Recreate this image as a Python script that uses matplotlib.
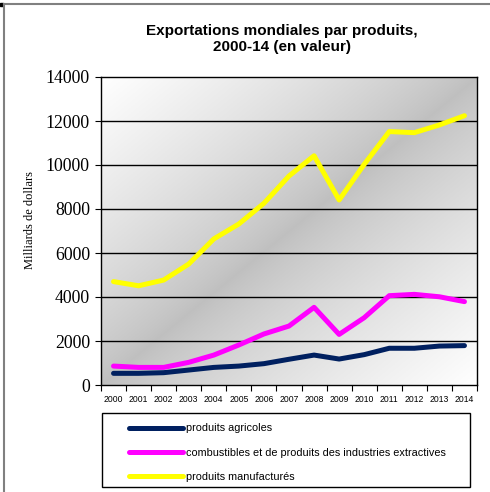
import numpy as np
import matplotlib
matplotlib.use("Agg")
import matplotlib.pyplot as plt
from matplotlib.lines import Line2D
from matplotlib.patches import Rectangle

plt.rcParams["font.family"] = ["Liberation Serif", "DejaVu Serif"]

years = ["2000", "2001", "2002", "2003", "2004", "2005", "2006", "2007",
         "2008", "2009", "2010", "2011", "2012", "2013", "2014"]
agricoles = [530, 530, 560, 680, 800, 860, 970, 1170, 1360, 1180, 1380, 1670, 1670, 1770, 1790]
combustibles = [860, 800, 800, 1030, 1360, 1820, 2320, 2680, 3530, 2300, 3060, 4060, 4120, 4010, 3790]
manufactures = [4700, 4510, 4770, 5500, 6640, 7320, 8260, 9500, 10420, 8410, 10030, 11520, 11470, 11820, 12240]
series_names = ["produits agricoles",
                "combustibles et de produits des industries extractives",
                "produits manufacturés"]
series_colors = ["#002060", "#ff00ff", "#ffff00"]
yticks = [0, 2000, 4000, 6000, 8000, 10000, 12000, 14000]

W, H = 490, 492
fig = plt.figure(figsize=(W / 100, H / 100), dpi=100)
fig.patch.set_facecolor("white")

ax = fig.add_axes([101 / W, 1 - 385 / H, 376 / W, 308 / H])

# gradient background
n = 200
u = np.linspace(0, 1, n)
U, V = np.meshgrid(u, u)  # V: 0 at top (image rows)
t = (U + V) / 2
val = 0.75 + 0.25 * np.abs(2 * t - 1) ** 0.8
img = np.dstack([val, val, val])
ax.imshow(img, extent=[0, 1, 0, 1], transform=ax.transAxes, aspect="auto",
          zorder=0, origin="upper")

x = np.arange(len(years))
for vals, name, col in zip([agricoles, combustibles, manufactures], series_names, series_colors):
    ax.plot(x, vals, color=col, lw=3.6, label=name, zorder=3, solid_capstyle="round")

ax.set_xlim(-0.5, len(years) - 0.5)
ax.set_ylim(0, 14000)
ax.set_yticks(yticks)
ax.set_yticklabels([str(v) for v in yticks], fontfamily="Liberation Serif", fontsize=12.8)
for yv in yticks[1:-1]:
    ax.axhline(yv, color="black", lw=1.0, zorder=2)
ax.set_xticks(np.arange(-0.5, len(years), 1.0))
ax.set_xticklabels([])
ax.set_xticks(x, minor=True)
ax.set_xticklabels(years, minor=True, fontfamily="Liberation Sans", fontsize=6.2)
ax.tick_params(axis="x", which="major", length=4, width=0.8, direction="out")
ax.tick_params(axis="x", which="minor", length=0, pad=7)
ax.tick_params(axis="y", length=4, width=0.8, direction="out", pad=4)
for s in ax.spines.values():
    s.set_color("black")
    s.set_linewidth(1.0)
ax.set_ylabel("Milliards de dollars", fontfamily="Liberation Serif", fontsize=9)
ax.yaxis.set_label_coords(-0.173, 0.536)

fig.text(282 / W, 1 - 39 / H, "Exportations mondiales par produits,\n2000-14 (en valeur)",
         ha="center", va="center", fontfamily="Liberation Sans", fontweight="bold",
         fontsize=11, linespacing=1.25)

# legend box
fig.add_artist(Rectangle((102 / W, 1 - 487 / H), 368 / W, 74 / H, facecolor="white",
                         edgecolor="black", lw=1.0, transform=fig.transFigure, zorder=-1))
leg = ax.legend(loc="upper left", bbox_to_anchor=(124 / W, 1 - 418 / H),
                bbox_transform=fig.transFigure, borderaxespad=0,
                prop={"family": "Liberation Sans", "size": 7.8}, handlelength=4.9,
                handletextpad=0.35, labelspacing=1.3, borderpad=0.5,
                frameon=False)
for lh in leg.get_lines():
    lh.set_linewidth(3.6)

# outer frame
fig.add_artist(Line2D([3.5 / W, 3.5 / W], [0, 1 - 4 / H], color="#808080", lw=1.5,
                      transform=fig.transFigure))
fig.add_artist(Line2D([3.5 / W, 1], [1 - 4 / H, 1 - 4 / H], color="#808080", lw=1.5,
                      transform=fig.transFigure))
fig.add_artist(Rectangle((0, 1 - 6 / H), 3 / W, 3 / H, color="black",
                         transform=fig.transFigure))

fig.savefig("out.png", dpi=100)
